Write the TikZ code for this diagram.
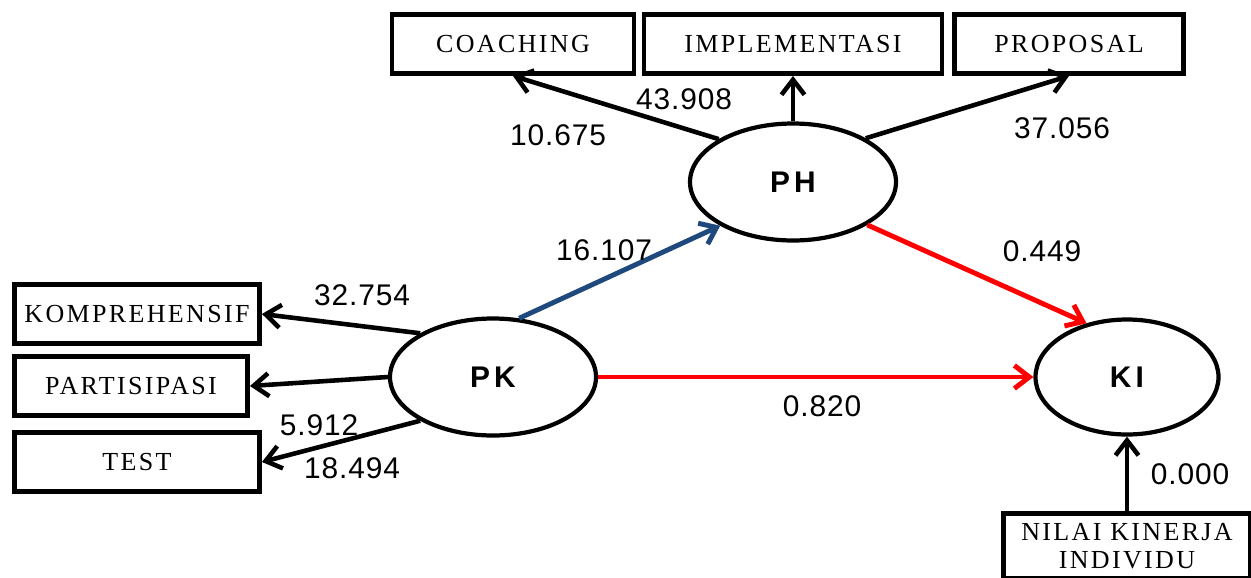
\documentclass[tikz,border=0pt]{standalone}
\usepackage{fontspec}
\usetikzlibrary{positioning,arrows.meta,shapes.geometric}
\newfontfamily\boxfont[LetterSpace=9]{Liberation Serif}
\newfontfamily\numfont[LetterSpace=3]{Liberation Sans}
\newfontfamily\lvfont[LetterSpace=14]{Liberation Sans}
\definecolor{pathblue}{RGB}{31,73,125}
\definecolor{pathred}{RGB}{255,0,0}
\tikzset{
   ind/.style={draw, rectangle, line width=2.8pt, minimum height=1.18cm,
      inner sep=0pt, font=\boxfont\fontsize{14.8}{15.5}\selectfont},
   lv/.style={draw, ellipse, line width=2.4pt, minimum width=4.12cm,
      minimum height=2.34cm, inner sep=0pt,
      font=\lvfont\bfseries\fontsize{17}{19}\selectfont},
   arr/.style={line width=2.6pt, -{Straight Barb[length=3mm,width=4.6mm]}},
   num/.style={inner sep=0pt, font=\numfont\fontsize{17}{19}\selectfont}
}
\begin{document}
\begin{tikzpicture}[on grid]
   \useasboundingbox (0,0) rectangle (25.02,-11.54);

   % latent variables
   \node[lv]                                (pk) at (9.86,-7.54) {PK};
   \node[lv, above right=3.9cm and 6cm of pk]  (ph) {PH};
   \node[lv, minimum width=3.66cm, minimum height=2.3cm,
         right=12.68cm of pk]               (ki) {KI};

   % indicators of PH
   \node[ind, minimum width=4.84cm, above left=2.76cm and 5.6cm of ph]
      (coach) {COACHING};
   \node[ind, minimum width=5.96cm, above=2.76cm of ph]
      (impl) {IMPLEMENTASI};
   \node[ind, minimum width=4.58cm, above right=2.76cm and 5.52cm of ph]
      (prop) {PROPOSAL};

   % indicators of PK
   \node[ind, minimum width=4.9cm, above left=1.26cm and 7.12cm of pk]
      (komp) {KOMPREHENSIF};
   \node[ind, minimum width=4.66cm, below left=0.18cm and 7.24cm of pk]
      (part) {PARTISIPASI};
   \node[ind, minimum width=4.9cm, below left=1.7cm and 7.12cm of pk]
      (test) {TEST};

   % indicator of KI
   \node[ind, minimum width=4.94cm, minimum height=1.3cm, align=center,
         below=3.38cm of ki] (nilai) {NILAI KINERJA\\INDIVIDU};

   % loadings
   \draw[arr] (ph.150) -- (coach.south);
   \draw[arr] (ph.north) -- (impl.south);
   \draw[arr] (ph.31) -- (prop.south);
   \draw[arr] (pk.149) -- (komp.east);
   \draw[arr] (pk.west) -- (part.east);
   \draw[arr] (pk.211) -- (test.east);
   \draw[arr] (nilai.north) -- (ki.south);

   % structural paths
   \draw[arr, line width=2.8pt, pathblue] (pk.66) -- (ph.211);
   \draw[arr, line width=2.8pt, pathred] (ph.330) -- (ki.127);
   \draw[arr, line width=2.8pt, pathred] (pk.east) -- (ki.west);

   % t values
   \node[num] (t1) at (13.68,-1.98) {43.908};
   \node[num] (t2) at (11.16,-2.70) {10.675};
   \node[num] (t3) at (21.24,-2.56) {37.056};
   \node[num] (t4) at (12.08,-5.00) {16.107};
   \node[num] (t5) at (20.84,-5.02) {0.449};
   \node[num] (t6) at (7.24,-5.90)  {32.754};
   \node[num] (t7) at (6.38,-8.50)  {5.912};
   \node[num] (t8) at (7.04,-9.36)  {18.494};
   \node[num] (t9) at (16.44,-8.12) {0.820};
   \node[num] (t10) at (23.80,-9.48) {0.000};
\end{tikzpicture}
\end{document}
